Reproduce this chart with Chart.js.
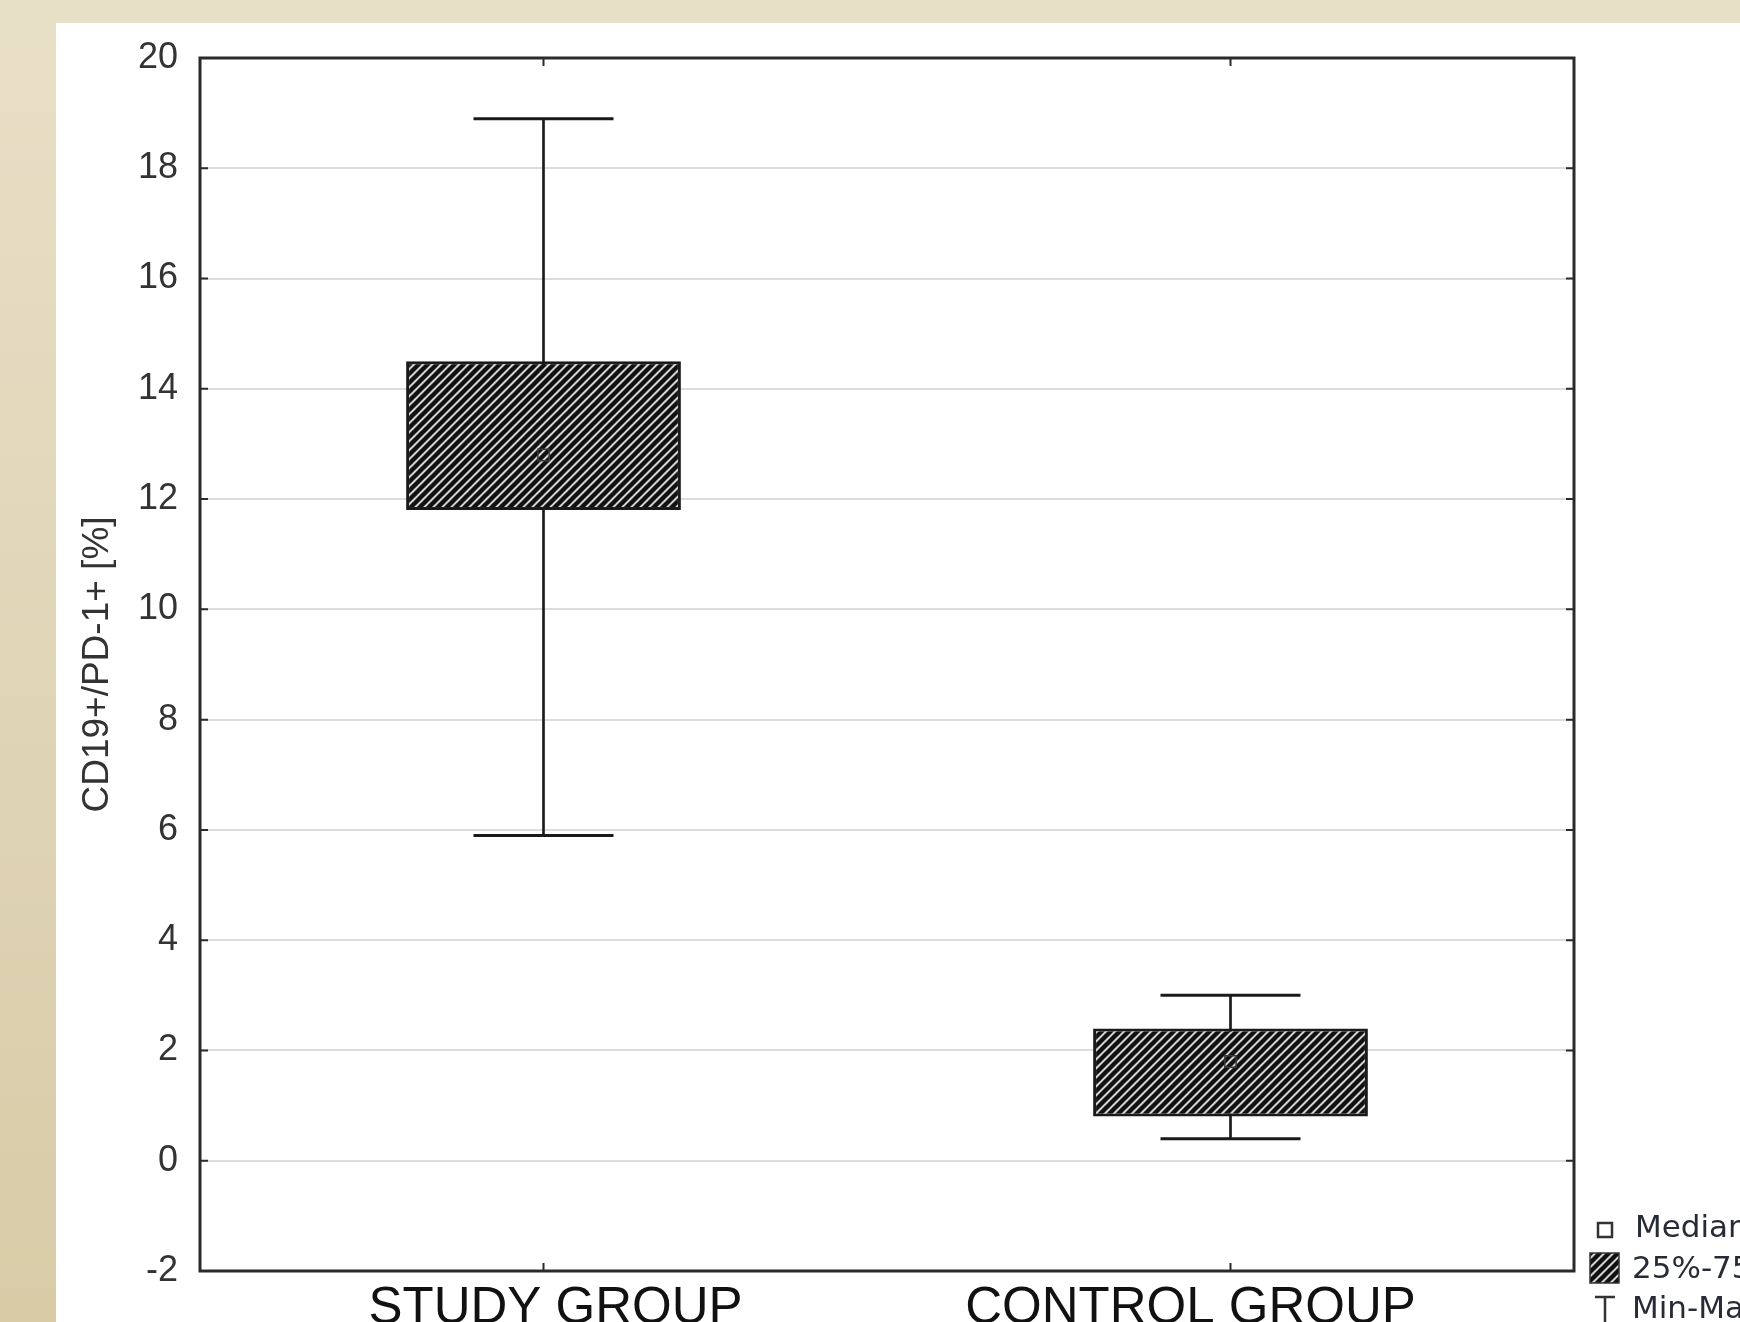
<!DOCTYPE html>
<html>
<head>
<meta charset="utf-8">
<title>CD19+/PD-1+ [%]</title>
<script src="https://cdn.jsdelivr.net/npm/chart.js@4.4.1/dist/chart.umd.min.js"></script>
<style>
  html, body { margin: 0; padding: 0; }
  body {
    width: 1740px; height: 1322px; overflow: hidden; position: relative;
    background: linear-gradient(to bottom, #e8dfc7 0%, #ded3b4 60%, #d8cba6 100%);
  }
  #panel {
    position: absolute; left: 56px; top: 23px; right: 0; bottom: 0;
    background: #ffffff;
  }
  #chart { position: absolute; left: 0; top: 0; }
</style>
</head>
<body>
<div id="panel"></div>
<canvas id="chart" width="1740" height="1322"></canvas>
<script>
// Groups and summary statistics (percent of CD19+ cells that are PD-1+)
const categories = ['STUDY GROUP', 'CONTROL GROUP'];
const minValues    = [5.9, 0.4];
const q1Values     = [11.8, 0.8];
const medianValues = [12.8, 1.8];
const q3Values     = [14.5, 2.4];
const maxValues    = [18.9, 3.0];
const yTickValues  = [-2, 0, 2, 4, 6, 8, 10, 12, 14, 16, 18, 20];
const legendLabels = ['Median', '25%-75%', 'Min-Max'];

// Diagonal "////" hatch used for the interquartile boxes
function makeHatch() {
  const s = 9;
  const c = document.createElement('canvas');
  c.width = s; c.height = s;
  const g = c.getContext('2d');
  g.fillStyle = '#d4d4d4';
  g.fillRect(0, 0, s, s);
  g.strokeStyle = '#111111';
  g.lineWidth = 4.4;
  g.lineCap = 'square';
  g.beginPath();
  g.moveTo(0, s); g.lineTo(s, 0);
  g.moveTo(-s / 2, s / 2); g.lineTo(s / 2, -s / 2);
  g.moveTo(s / 2, s * 1.5); g.lineTo(s * 1.5, s / 2);
  g.stroke();
  return document.getElementById('chart').getContext('2d').createPattern(c, 'repeat');
}
const hatch = makeHatch();

// Frame around the plot area plus short inward tick marks on all four sides
const framePlugin = {
  id: 'frame',
  afterDraw(chart) {
    const { ctx, chartArea: a, scales } = chart;
    ctx.save();
    ctx.strokeStyle = '#2b2b2b';
    ctx.lineWidth = 2;
    const tl = 8;
    ctx.beginPath();
    scales.y.ticks.forEach(t => {
      const py = scales.y.getPixelForValue(t.value);
      ctx.moveTo(a.left, py); ctx.lineTo(a.left + tl, py);
      ctx.moveTo(a.right, py); ctx.lineTo(a.right - tl, py);
    });
    scales.x.ticks.forEach((t, i) => {
      const px = scales.x.getPixelForTick(i);
      ctx.moveTo(px, a.top); ctx.lineTo(px, a.top + tl);
      ctx.moveTo(px, a.bottom); ctx.lineTo(px, a.bottom - tl);
    });
    ctx.stroke();
    ctx.lineWidth = 3;
    ctx.strokeStyle = '#2a2a2a';
    ctx.strokeRect(a.left, a.top, a.right - a.left, a.bottom - a.top);
    ctx.restore();
  }
};

// Group names under the axis; each is nudged a little off its tick
const groupLabelPlugin = {
  id: 'groupLabels',
  afterDraw(chart) {
    const { ctx, chartArea: a, scales } = chart;
    const nudges = [12, -40];
    ctx.save();
    ctx.font = '51px "Liberation Sans", Arial, sans-serif';
    ctx.fillStyle = '#111111';
    ctx.textAlign = 'center';
    ctx.textBaseline = 'alphabetic';
    scales.x.ticks.forEach((t, i) => {
      const px = scales.x.getPixelForTick(i) + nudges[i];
      ctx.fillText(categories[i], px, a.bottom + 52);
    });
    ctx.restore();
  }
};

// Key for the box symbols, drawn to the right of the plot
const keyPlugin = {
  id: 'boxKey',
  afterDraw(chart) {
    const { ctx, chartArea: a } = chart;
    const r = a.right, b = a.bottom;
    ctx.save();
    ctx.font = '31px "DejaVu Sans", Verdana, sans-serif';
    ctx.textBaseline = 'alphabetic';
    ctx.fillStyle = '#262b36';
    // median square
    ctx.strokeStyle = '#333';
    ctx.lineWidth = 2.5;
    ctx.strokeRect(r + 24, b - 48, 14, 14);
    ctx.fillText(legendLabels[0], r + 61, b - 34);
    // hatched box
    ctx.fillStyle = hatch;
    ctx.fillRect(r + 16, b - 18, 29, 30);
    ctx.lineWidth = 1.5;
    ctx.strokeRect(r + 16, b - 18, 29, 30);
    ctx.fillStyle = '#262b36';
    ctx.fillText(legendLabels[1], r + 58, b + 7);
    // whisker symbol
    ctx.lineWidth = 2.5;
    ctx.beginPath();
    ctx.moveTo(r + 21, b + 26); ctx.lineTo(r + 41, b + 26);
    ctx.moveTo(r + 31, b + 26); ctx.lineTo(r + 31, b + 60);
    ctx.stroke();
    ctx.fillText(legendLabels[2], r + 58, b + 47);
    ctx.restore();
  }
};

const capStyle = {
  type: 'line',
  showLine: false,
  pointStyle: 'line',
  pointRadius: 70,
  pointHoverRadius: 70,
  pointBorderWidth: 3,
  pointBorderColor: '#1a1a1a',
  order: 2
};

new Chart(document.getElementById('chart'), {
  type: 'bar',
  data: {
    labels: categories,
    datasets: [
      {
        label: legendLabels[0],
        type: 'line',
        data: medianValues,
        showLine: false,
        pointStyle: 'rect',
        pointRadius: 8,
        pointHoverRadius: 8,
        pointBorderWidth: 1.5,
        pointBorderColor: '#3a3a3a',
        pointBackgroundColor: 'rgba(0,0,0,0)',
        order: 0
      },
      {
        label: legendLabels[1],
        data: categories.map((_, i) => [q1Values[i], q3Values[i]]),
        backgroundColor: hatch,
        borderColor: '#1a1a1a',
        borderWidth: 3,
        borderSkipped: false,
        barPercentage: 0.4,
        categoryPercentage: 1,
        grouped: false,
        order: 1
      },
      Object.assign({ label: 'max', data: maxValues }, capStyle),
      Object.assign({ label: 'min', data: minValues }, capStyle),
      {
        label: legendLabels[2],
        data: categories.map((_, i) => [minValues[i], maxValues[i]]),
        backgroundColor: '#1a1a1a',
        barThickness: 2,
        grouped: false,
        order: 3
      }
    ]
  },
  options: {
    responsive: false,
    devicePixelRatio: 1,
    animation: false,
    events: [],
    layout: { autoPadding: false, padding: { left: 0, top: 58, right: 166, bottom: 0 } },
    plugins: {
      legend: { display: false },
      tooltip: { enabled: false },
      title: { display: false }
    },
    scales: {
      x: {
        type: 'category',
        offset: true,
        grid: { display: false, drawTicks: false },
        border: { display: false },
        ticks: { display: false },
        afterFit(scale) { scale.height = 51; }
      },
      y: {
        min: -2,
        max: 20,
        afterBuildTicks(scale) { scale.ticks = yTickValues.map(v => ({ value: v })); },
        grid: { color: '#dcdcdc', lineWidth: 2, drawTicks: false },
        border: { display: false },
        ticks: {
          color: '#333333',
          padding: 22,
          font: { family: '"Liberation Sans", Arial, sans-serif', size: 36 }
        },
        title: {
          display: true,
          text: 'CD19+/PD-1+ [%]',
          color: '#333333',
          padding: { top: 76, bottom: 0 },
          font: { family: '"Liberation Sans", Arial, sans-serif', size: 37 }
        },
        afterFit(scale) { scale.width = 200; }
      }
    }
  },
  plugins: [framePlugin, groupLabelPlugin, keyPlugin]
});
</script>
</body>
</html>
